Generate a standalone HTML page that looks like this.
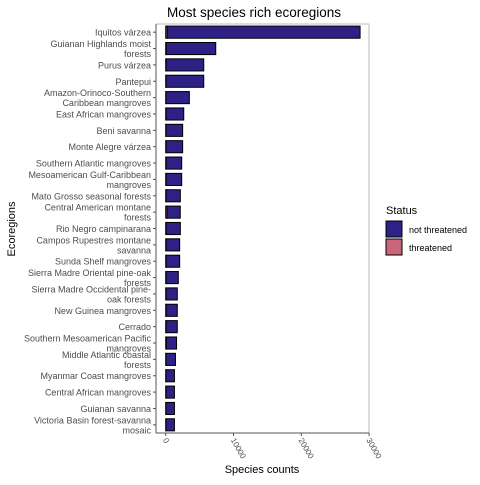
<!DOCTYPE html>
<html><head><meta charset="utf-8">
<style>
body{margin:0;background:#fff;}
svg{font-family:"Liberation Sans",sans-serif;}
</style></head>
<body>
<svg id="chart" width="480" height="480">
<text x="254" y="17" font-size="13.5" text-anchor="middle" fill="#000">Most species rich ecoregions</text>
<g id="plot"></g>
<text x="262" y="473" font-size="11" text-anchor="middle" fill="#000">Species counts</text>
<text transform="translate(15,229) rotate(-90)" font-size="11" text-anchor="middle" fill="#000">Ecoregions</text>
<g>
<text x="386" y="214" font-size="11" fill="#000">Status</text>
<g>
<rect x="386" y="221" width="16" height="16" fill="#2e2185" stroke="#000" stroke-width="1"/>
<text x="409" y="233" font-size="9" fill="#000">not threatened</text></g>
<g>
<rect x="386" y="239" width="16" height="16" fill="#c9667a" stroke="#000" stroke-width="1"/>
<text x="409" y="251" font-size="9" fill="#000">threatened</text></g>
</g>
</svg>
<script>
const categories=["Iquitos várzea","Guianan Highlands moist|forests","Purus várzea","Pantepui","Amazon-Orinoco-Southern|Caribbean mangroves","East African mangroves","Beni savanna","Monte Alegre várzea","Southern Atlantic mangroves","Mesoamerican Gulf-Caribbean|mangroves","Mato Grosso seasonal forests","Central American montane|forests","Rio Negro campinarana","Campos Rupestres montane|savanna","Sunda Shelf mangroves","Sierra Madre Oriental pine-oak|forests","Sierra Madre Occidental pine-|oak forests","New Guinea mangroves","Cerrado","Southern Mesoamerican Pacific|mangroves","Middle Atlantic coastal|forests","Myanmar Coast mangroves","Central African mangroves","Guianan savanna","Victoria Basin forest-savanna|mosaic"];
const notThreatened=[28450,7300,5550,5550,3450,2600,2450,2450,2300,2300,2100,1950,2100,2000,2000,1800,1650,1650,1650,1500,1400,1250,1250,1250,1250];
const threatened=[220,80,60,60,40,60,50,50,60,60,60,200,60,60,60,60,60,60,60,100,40,40,40,40,40];
const xTicks=[0,10000,20000,30000];
const xTickLabels=["0","10000","20000","30000"];
const L=156,R=369,T=24,B=433,X0=165.7,PX=0.00678;
const xs=v=>X0+v*PX;
const band=(B-T)/categories.length;
const ys=i=>T+band*(i+0.5);
const NS="http://www.w3.org/2000/svg";
const g=document.getElementById('plot');
function mk(t,a){const e=document.createElementNS(NS,t);for(const k in a)e.setAttribute(k,a[k]);g.appendChild(e);return e;}
let e=mk('line',{x1:L,y1:T,x2:R,y2:T,stroke:'#bbb','stroke-width':1});


e=mk('line',{x1:R,y1:T,x2:R,y2:B,stroke:'#bbb','stroke-width':1});


e=mk('line',{x1:L,y1:T,x2:L,y2:B,stroke:'#555','stroke-width':1});


e=mk('line',{x1:L,y1:B,x2:R,y2:B,stroke:'#555','stroke-width':1});


const bh=band*0.74;
categories.forEach((c,i)=>{
  const y=ys(i);
  const t=threatened[i],n=notThreatened[i];
  let r=mk('rect',{x:xs(0),y:y-bh/2,width:xs(t)-xs(0),height:bh,fill:'#c9667a',stroke:'#000','stroke-width':1});
  
  
  r=mk('rect',{x:xs(t),y:y-bh/2,width:xs(t+n)-xs(t),height:bh,fill:'#2e2185',stroke:'#000','stroke-width':1});
  
  
  let tk=mk('line',{x1:L-3,x2:L,y1:y,y2:y,stroke:'#555'});
  
  
  const lines=c.split('|');
  const tx=mk('text',{x:L-5,'font-size':9,'text-anchor':'end',fill:'#4d4d4d'});
  
  
  const y0=y+3.5-(lines.length-1)*5;
  lines.forEach((s,j)=>{const ts=document.createElementNS(NS,'tspan');ts.setAttribute('x',L-5);ts.setAttribute('y',y0+j*10);ts.textContent=s;tx.appendChild(ts);});
});
xTicks.forEach((v,i)=>{
  const x=xs(v);
  let tk=mk('line',{x1:x,x2:x,y1:B,y2:B+3,stroke:'#555'});
  
  
  const t=mk('text',{transform:`translate(${x-3},${B+7}) rotate(60)`,'font-size':8,fill:'#4d4d4d'});
  t.textContent=xTickLabels[i];
  
  
});
</script>
</body></html>
